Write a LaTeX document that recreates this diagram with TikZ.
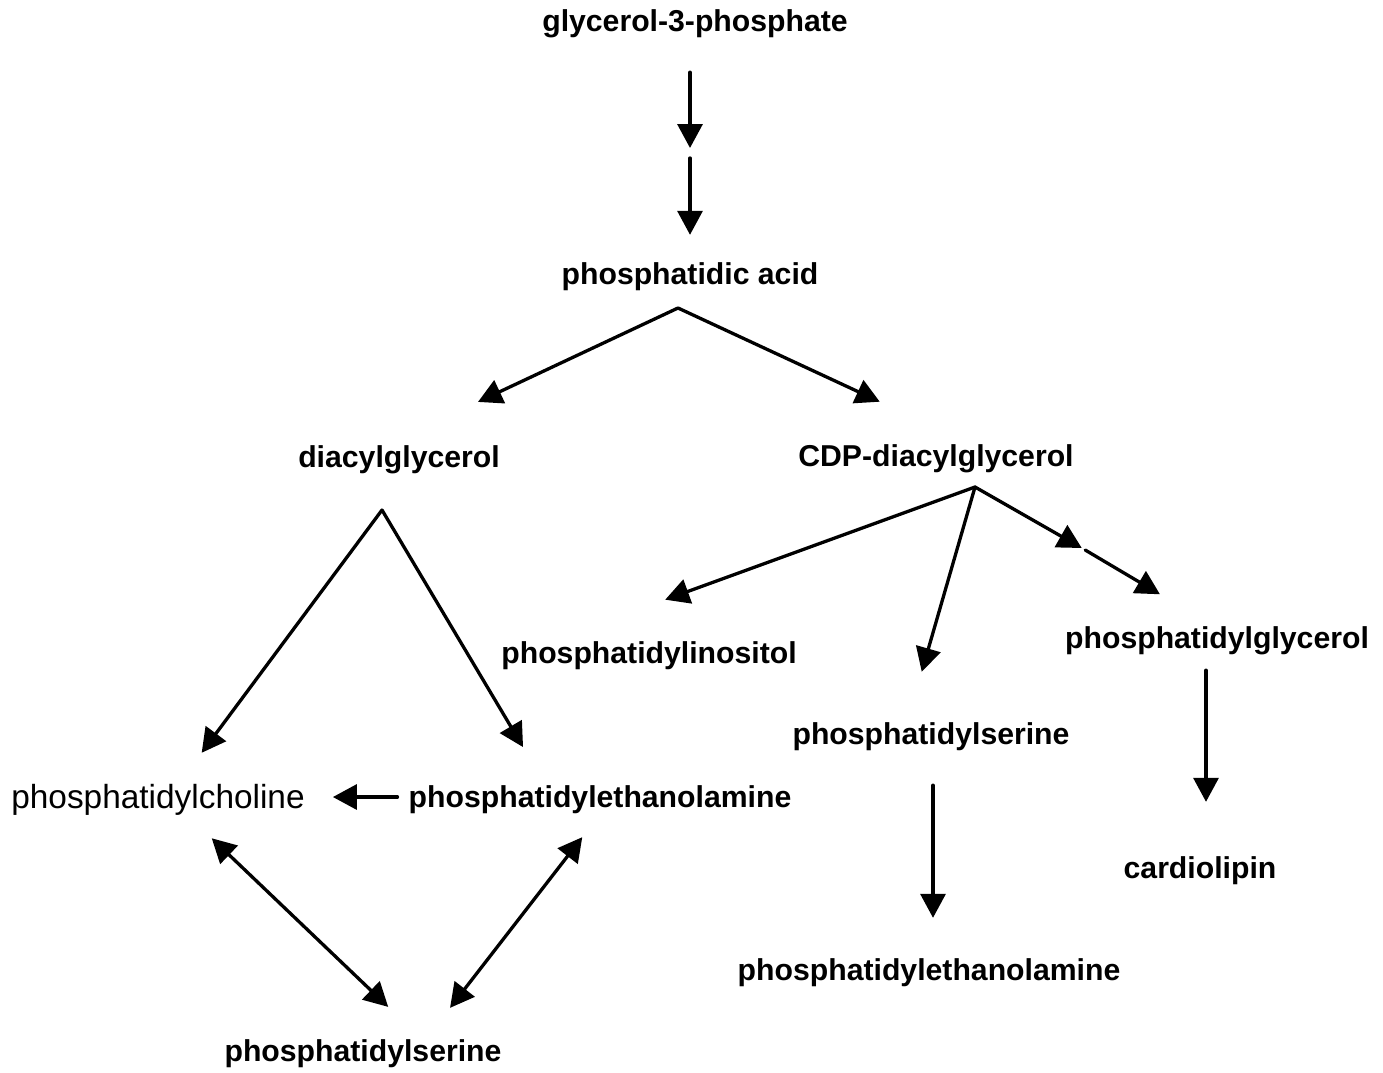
\documentclass[tikz,border=0pt]{standalone}
\usepackage{fontspec}
\setmainfont{Liberation Sans}
\usetikzlibrary{arrows.meta}

\begin{document}
\begin{tikzpicture}[x=1pt,y=-1pt,
    lbl/.style={inner sep=0pt,text height=25pt,text depth=4pt,
      font=\fontsize{30.2}{36}\selectfont\bfseries},
    arr/.style={line width=3.3pt,line cap=round,
      -{Triangle[length=24pt,width=25pt]}},
    darr/.style={line width=3.3pt,
      {Triangle[length=24pt,width=25pt]}-{Triangle[length=24pt,width=25pt]}}]
  \useasboundingbox (0,0) rectangle (1383,1072);
  % lipids
  \node[lbl] (g3p) at (695,21) {glycerol-3-phosphate};
  \node[lbl] (pa) at (690,274) {phosphatidic acid};
  \node[lbl] (dag) at (399,457) {diacylglycerol};
  \node[lbl] (cdp) at (936,456) {CDP-diacylglycerol};
  \node[lbl] (pi) at (649,653) {phosphatidylinositol};
  \node[lbl] (pg) at (1217,638) {phosphatidylglycerol};
  \node[lbl] (psR) at (931,734) {phosphatidylserine};
  \node[lbl] (cl) at (1200,868) {cardiolipin};
  \node[lbl] (peR) at (929,970) {phosphatidylethanolamine};
  \node[lbl,font=\fontsize{33.4}{40}\selectfont] (pc) at (158,798) {phosphatidylcholine};
  \node[lbl] (peL) at (600,797) {phosphatidylethanolamine};
  \node[lbl] (psB) at (363,1051) {phosphatidylserine};
  % branch points
  \coordinate (lpa) at (690,153);
  \coordinate (paFork) at (678,308);
  \coordinate (dagFork) at (382,510);
  \coordinate (cdpFork) at (975,487);
  \coordinate (pgpStep) at (1083.5,549);
  % g3p -> pa, two steps
  \draw[arr,shorten <=36.5pt,shorten >=5pt] (g3p.south -| lpa) -- (lpa);
  \draw[arr,shorten <=5pt,shorten >=24.5pt] (lpa) -- (pa.north -| lpa);
  % pa -> dag, cdp
  \draw[arr,shorten >=95pt] (paFork) -- ([xshift=-7pt]dag.north);
  \draw[arr,shorten >=94pt] (paFork) -- ([xshift=29pt]cdp.north);
  % dag -> pc, pe
  \draw[arr,shorten >=38pt] (dagFork) -- ([xshift=21pt]pc.north);
  \draw[arr,shorten >=41pt] (dagFork) -- ([xshift=-56pt]peL.north);
  % cdp -> pi, ps, pg
  \draw[arr,shorten >=113pt] (cdpFork) -- ([xshift=-90pt]pi.north);
  \draw[arr,shorten >=49.5pt] (cdpFork) -- ([xshift=-23pt]psR.north);
  \draw[arr,shorten >=2pt] (cdpFork) -- (pgpStep);
  \draw[arr,shorten <=2pt,shorten >=57pt] (pgpStep) -- ([xshift=-8pt]pg.north);
  % pg -> cl, ps -> pe
  \draw[arr,shorten <=17.5pt,shorten >=51.5pt] ([xshift=-11pt]pg.south) -- ([xshift=6pt]cl.north);
  \draw[arr,shorten <=36.5pt,shorten >=37.5pt] ([xshift=2pt]psR.south) -- ([xshift=4pt]peR.north);
  % left cycle
  \draw[arr,shorten <=11pt,shorten >=28pt] (peL.west) -- (peL.west -| pc.east);
  \draw[darr,shorten <=37pt,shorten >=42.6pt] ([xshift=27pt]pc.south) -- ([xshift=56pt]psB.north);
  \draw[darr,shorten <=32.2pt,shorten >=36pt] ([xshift=2pt]peL.south) -- ([xshift=65pt]psB.north);
\end{tikzpicture}
\end{document}
